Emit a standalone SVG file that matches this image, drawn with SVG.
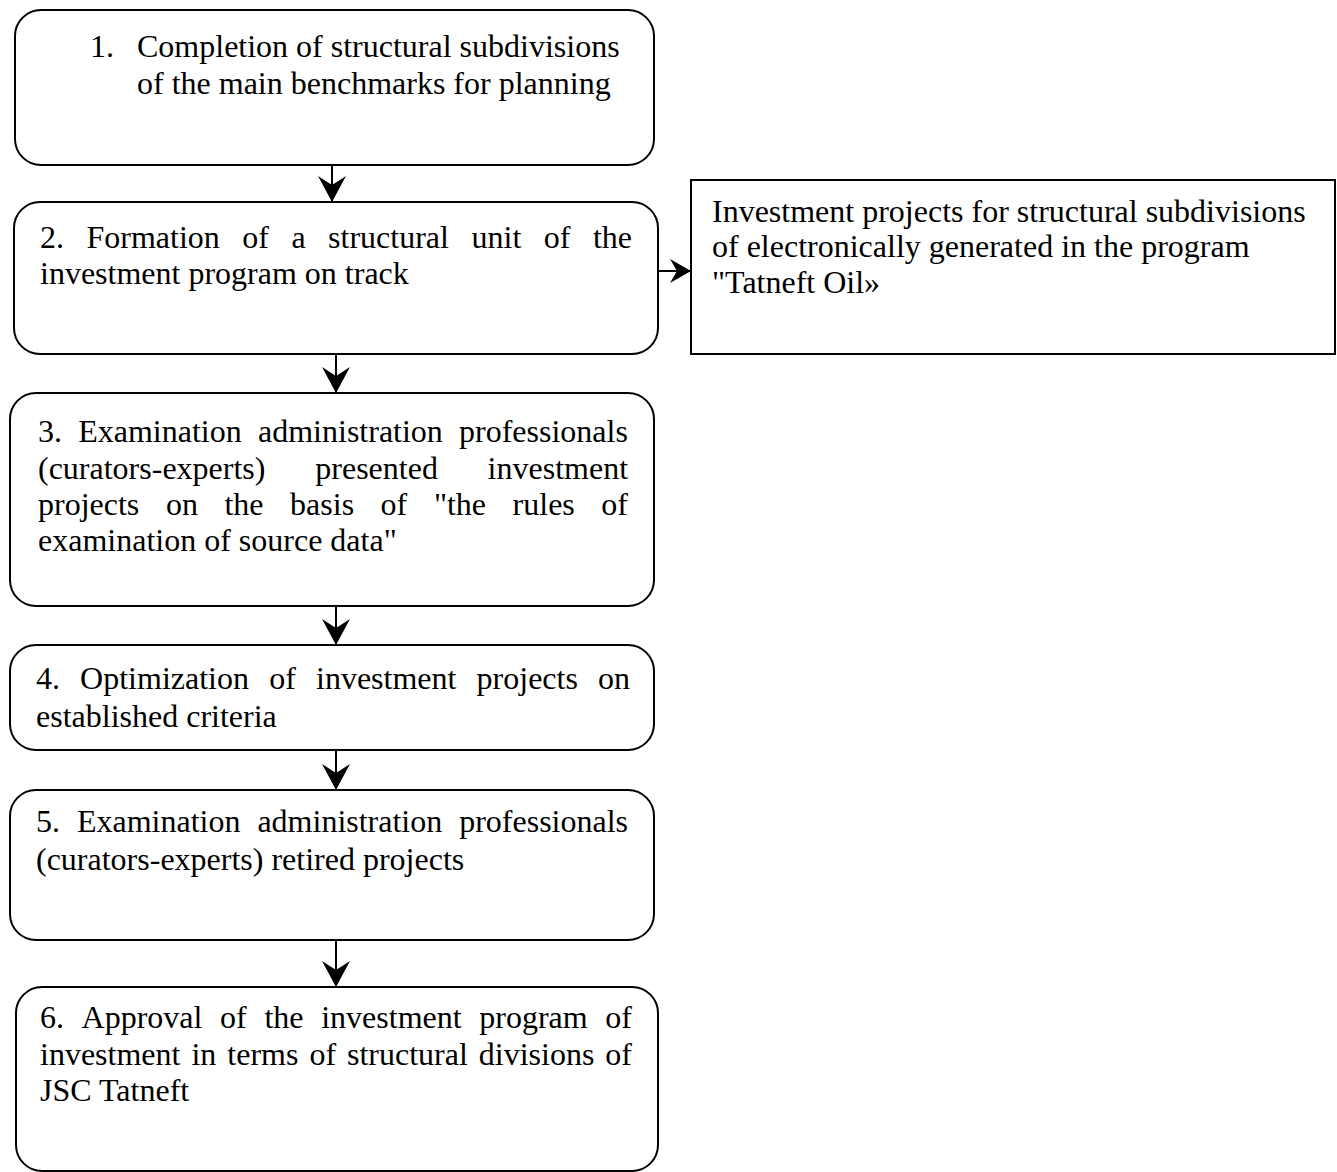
<svg xmlns="http://www.w3.org/2000/svg" width="1337" height="1172" viewBox="0 0 1337 1172">
  <style>
    .box { fill: #ffffff; stroke: #000000; stroke-width: 2; }
    .lbl { font-family: "Liberation Serif", "Times New Roman", serif; font-size: 32px; fill: #000000; }
    .conn { stroke: #000000; stroke-width: 2; fill: none; }
  </style>
  <defs>
    <marker id="headDown" markerUnits="userSpaceOnUse" viewBox="0 0 26 28" markerWidth="26" markerHeight="28" refX="26" refY="14" orient="auto">
      <path d="M0,0 L26,14 L0,28 L9,14 Z" fill="#000000"/>
    </marker>
    <marker id="headRight" markerUnits="userSpaceOnUse" viewBox="0 0 21 24" markerWidth="21" markerHeight="24" refX="21" refY="12" orient="auto">
      <path d="M0,0 L21,12 L0,24 L7,12 Z" fill="#000000"/>
    </marker>
  </defs>

  <rect width="1337" height="1172" fill="#ffffff"/>

  <!-- connectors -->
  <g id="connectors">
    <line class="conn" x1="332" y1="165" x2="332" y2="202" marker-end="url(#headDown)"/>
    <line class="conn" x1="336" y1="354" x2="336" y2="393" marker-end="url(#headDown)"/>
    <line class="conn" x1="336" y1="606" x2="336" y2="645" marker-end="url(#headDown)"/>
    <line class="conn" x1="336" y1="750" x2="336" y2="790" marker-end="url(#headDown)"/>
    <line class="conn" x1="336" y1="940" x2="336" y2="987" marker-end="url(#headDown)"/>
    <line class="conn" x1="658" y1="271" x2="691" y2="271" marker-end="url(#headRight)"/>
  </g>

  <!-- step 1 -->
  <g id="step1">
    <rect class="box" x="15" y="10" width="639" height="155" rx="26" ry="26"/>
    <text class="lbl" y="57"><tspan x="90">1.</tspan><tspan x="137">Completion of structural subdivisions</tspan></text>
    <text class="lbl" x="137" y="94">of the main benchmarks for planning</text>
  </g>

  <!-- step 2 -->
  <g id="step2">
    <rect class="box" x="14" y="202" width="644" height="152" rx="26" ry="26"/>
    <text class="lbl" y="248"><tspan x="40">2.</tspan><tspan x="86.5">Formation</tspan><tspan x="242.3">of</tspan><tspan x="291.4">a</tspan><tspan x="328.1">structural</tspan><tspan x="471.5">unit</tspan><tspan x="543.7">of</tspan><tspan x="592.9">the</tspan></text>
    <text class="lbl" x="40" y="284">investment program on track</text>
  </g>

  <!-- electronic investment projects -->
  <g id="projects">
    <rect class="box" x="691" y="180" width="644" height="174"/>
    <text class="lbl" x="712" y="222">Investment projects for structural subdivisions</text>
    <text class="lbl" x="712" y="257">of electronically generated in the program</text>
    <text class="lbl" x="712" y="293">"Tatneft Oil»</text>
  </g>

  <!-- step 3 -->
  <g id="step3">
    <rect class="box" x="10" y="393" width="644" height="213" rx="26" ry="26"/>
    <text class="lbl" y="442"><tspan x="38">3.</tspan><tspan x="78.2">Examination</tspan><tspan x="258">administration</tspan><tspan x="459">professionals</tspan></text>
    <text class="lbl" y="479"><tspan x="38">(curators-experts)</tspan><tspan x="315.3">presented</tspan><tspan x="487.6">investment</tspan></text>
    <text class="lbl" y="515"><tspan x="38">projects</tspan><tspan x="165.9">on</tspan><tspan x="224.4">the</tspan><tspan x="290.1">basis</tspan><tspan x="380.6">of</tspan><tspan x="433.9">"the</tspan><tspan x="512.6">rules</tspan><tspan x="601.3">of</tspan></text>
    <text class="lbl" x="38" y="551">examination of source data"</text>
  </g>

  <!-- step 4 -->
  <g id="step4">
    <rect class="box" x="10" y="645" width="644" height="105" rx="26" ry="26"/>
    <text class="lbl" y="689"><tspan x="36">4.</tspan><tspan x="80.1">Optimization</tspan><tspan x="269.2">of</tspan><tspan x="316">investment</tspan><tspan x="476.6">projects</tspan><tspan x="598">on</tspan></text>
    <text class="lbl" x="36" y="727">established criteria</text>
  </g>

  <!-- step 5 -->
  <g id="step5">
    <rect class="box" x="10" y="790" width="644" height="150" rx="26" ry="26"/>
    <text class="lbl" y="832"><tspan x="36">5.</tspan><tspan x="76.9">Examination</tspan><tspan x="257.4">administration</tspan><tspan x="459.2">professionals</tspan></text>
    <text class="lbl" x="36" y="870">(curators-experts) retired projects</text>
  </g>

  <!-- step 6 -->
  <g id="step6">
    <rect class="box" x="16" y="987" width="642" height="184" rx="26" ry="26"/>
    <text class="lbl" y="1028"><tspan x="40">6.</tspan><tspan x="81.6">Approval</tspan><tspan x="220.1">of</tspan><tspan x="264.4">the</tspan><tspan x="321.2">investment</tspan><tspan x="479.3">program</tspan><tspan x="605.3">of</tspan></text>
    <text class="lbl" y="1065"><tspan x="40">investment</tspan><tspan x="191.4">in</tspan><tspan x="227.3">terms</tspan><tspan x="309.4">of</tspan><tspan x="347">structural</tspan><tspan x="478.8">divisions</tspan><tspan x="605.3">of</tspan></text>
    <text class="lbl" x="40" y="1101">JSC Tatneft</text>
  </g>
</svg>
